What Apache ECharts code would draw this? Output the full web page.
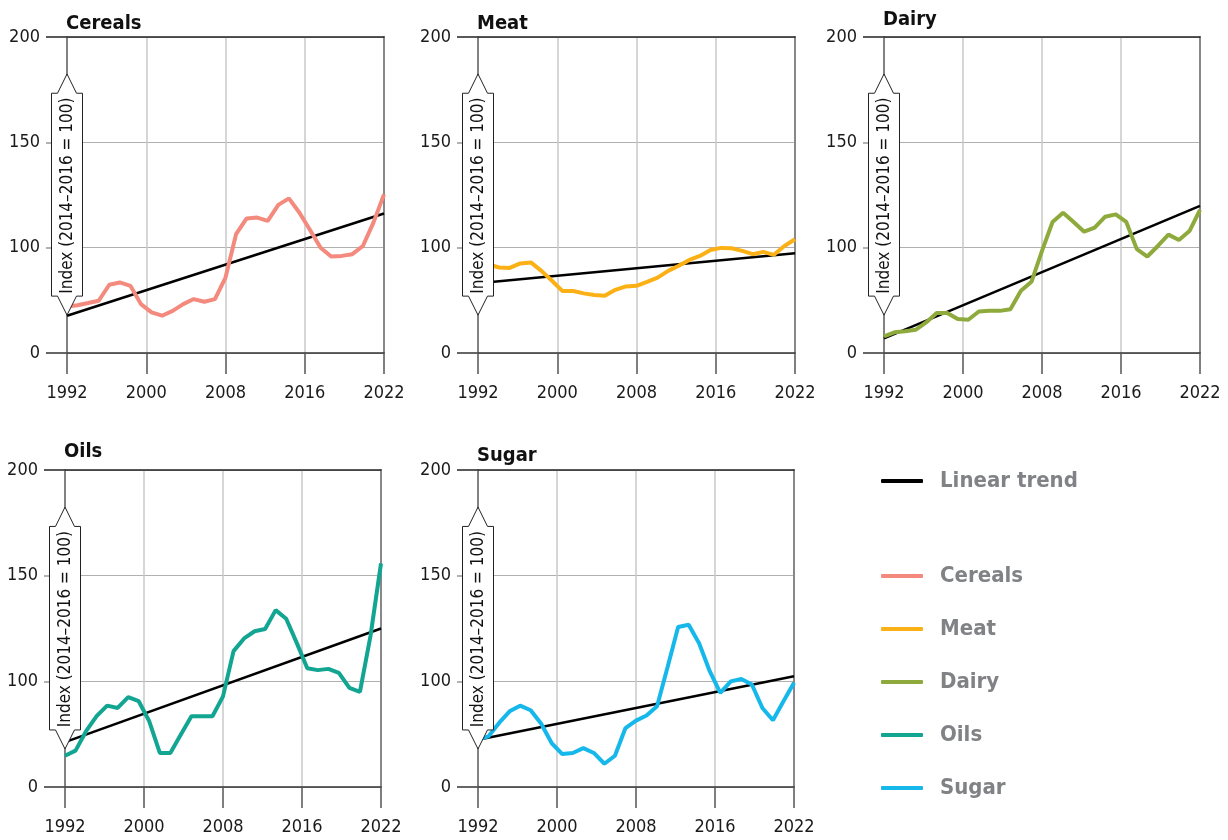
<!DOCTYPE html>
<html>
<head>
<meta charset="utf-8">
<title>Food price indices</title>
<script src="https://cdn.jsdelivr.net/npm/echarts@6/dist/echarts.min.js"></script>
<style>
  html, body { margin: 0; padding: 0; background: #fff; }
  #chart { width: 1228px; height: 840px; }
</style>
</head>
<body>
<div id="chart"></div>
<script>
const years = [
  '1992', '1993', '1994', '1995', '1996', '1997', '1998', '1999', '2000', '2001',
  '2002', '2003', '2004', '2005', '2006', '2007', '2008', '2009', '2010', '2011',
  '2012', '2013', '2014', '2015', '2016', '2017', '2018', '2019', '2020', '2021', '2022'
]
const xTickLabels = ['1992', '2000', '2008', '2016', '2022']
const yTickValues = [50, 100, 150, 200]
const yTickLabels = ['0', '100', '150', '200']

const cereals = [72.1, 72.7, 73.7, 74.8, 82.4, 83.5, 81.9, 73.2, 69.3, 67.7, 70.0, 73.2, 75.6, 74.3, 75.6, 85.8,
  106.4, 113.9, 114.3, 112.7, 120.3, 123.4, 116.6, 108.4, 100.0, 95.8, 96.1, 96.9, 100.8, 111.9, 125.3]
const meat = [93.0, 92.0, 90.6, 90.4, 92.5, 93.0, 89.0, 84.3, 79.4, 79.4, 78.3, 77.5, 77.2, 80.0, 81.6, 81.9,
  83.8, 85.8, 89.0, 91.4, 94.2, 96.1, 98.9, 99.9, 99.7, 98.5, 96.9, 98.0, 96.6, 100.8, 104.0]
const dairy = [57.9, 59.8, 60.3, 61.0, 64.5, 69.0, 69.0, 66.1, 65.8, 69.7, 70.0, 70.0, 70.8, 79.5, 83.8, 98.5,
  112.2, 116.6, 112.2, 107.6, 109.5, 114.7, 115.8, 112.2, 99.3, 95.8, 100.8, 106.2, 103.6, 107.9, 117.9]
const oils = [64.8, 67.2, 76.4, 83.5, 88.5, 87.4, 92.5, 90.6, 81.1, 66.1, 66.1, 74.8, 83.5, 83.5, 83.5, 92.9,
  114.3, 120.3, 123.7, 124.8, 133.7, 129.6, 118.2, 106.2, 105.3, 105.9, 104.0, 96.9, 95.0, 121.4, 155.8]
const sugar = [72.4, 74.0, 80.3, 85.8, 88.5, 86.3, 79.9, 70.7, 65.6, 66.1, 68.4, 66.1, 61.0, 64.8, 77.9, 81.4,
  83.8, 88.2, 106.8, 125.7, 126.8, 117.9, 104.8, 94.5, 100.0, 101.1, 98.5, 87.4, 81.6, 90.6, 99.3]

// linear trend: value at 1992 and at 2022
const cerealsTrend = [67.7, 116.2]
const meatTrend = [83.1, 97.3]
const dairyTrend = [56.9, 119.8]
const oilsTrend = [71.2, 125.0]
const sugarTrend = [72.4, 102.4]

const FONT = "'DejaVu Sans Condensed', 'DejaVu Sans', sans-serif"

const panels = [
  { name: 'Cereals', color: '#F4897D', values: cereals, trend: cerealsTrend, left: 67, top: 37, width: 317, height: 316, titleTop: 14 },
  { name: 'Meat', color: '#FBB116', values: meat, trend: meatTrend, left: 478, top: 37, width: 317, height: 316, titleTop: 14 },
  { name: 'Dairy', color: '#8FAA3C', values: dairy, trend: dairyTrend, left: 884, top: 37, width: 316, height: 316, titleTop: 10 },
  { name: 'Oils', color: '#12A592', values: oils, trend: oilsTrend, left: 65, top: 470, width: 316, height: 317, titleTop: 442 },
  { name: 'Sugar', color: '#16B8EC', values: sugar, trend: sugarTrend, left: 478, top: 470, width: 316, height: 317, titleTop: 446 },
]

const TICK_LEN = 21

const grid = []
const xAxis = []
const yAxis = []
const series = []
const title = []
const graphic = []

panels.forEach((p, i) => {
  grid.push({ left: p.left, top: p.top, width: p.width, height: p.height })

  // data axis (hidden labels), also draws the dark top border
  xAxis.push({
    type: 'category',
    gridIndex: i,
    data: years,
    boundaryGap: false,
    position: 'top',
    axisLine: { show: true, onZero: false, lineStyle: { color: '#222', width: 1.5 } },
    axisTick: { show: false },
    axisLabel: { show: false },
    splitLine: { show: false },
  })
  // tick / grid axis
  xAxis.push({
    type: 'value',
    gridIndex: i,
    min: 0,
    max: 4,
    interval: 1,
    position: 'bottom',
    axisLine: { show: true, onZero: false, lineStyle: { color: '#333', width: 1.5 } },
    axisTick: { show: true, inside: false, length: TICK_LEN, lineStyle: { color: '#555', width: 1.5 } },
    axisLabel: {
      margin: 31,
      formatter: (v) => xTickLabels[v],
      fontFamily: FONT,
      fontSize: 18,
      color: '#1a1a1a',
    },
    splitLine: { show: true, lineStyle: { color: '#c8c8c8', width: 1.5 } },
  })

  yAxis.push({
    type: 'value',
    gridIndex: i,
    position: 'left',
    min: 50,
    max: 200,
    interval: 50,
    axisLine: { show: true, onZero: false, lineStyle: { color: '#666', width: 1.5 } },
    axisTick: { show: false },
    axisLabel: {
      margin: 27,
      formatter: (v) => yTickLabels[yTickValues.indexOf(v)],
      fontFamily: FONT,
      fontSize: 18,
      color: '#1a1a1a',
    },
    splitLine: { show: true, lineStyle: { color: '#b0b0b0', width: 1 } },
  })
  yAxis.push({
    type: 'value',
    gridIndex: i,
    min: 50,
    max: 200,
    position: 'right',
    axisLine: { show: true, onZero: false, lineStyle: { color: '#888', width: 2 } },
    axisTick: { show: false },
    axisLabel: { show: false },
    splitLine: { show: false },
  })

  series.push({
    name: 'Linear trend',
    type: 'line',
    xAxisIndex: i * 2,
    yAxisIndex: i * 2,
    data: [[years[0], p.trend[0]], [years[years.length - 1], p.trend[1]]],
    symbol: 'none',
    color: '#000',
    lineStyle: { color: '#000', width: 2.5 },
    z: 3,
  })
  series.push({
    name: p.name,
    type: 'line',
    xAxisIndex: i * 2,
    yAxisIndex: i * 2,
    data: p.values,
    symbol: 'none',
    color: p.color,
    lineStyle: { color: p.color, width: 4 },
    z: 4,
  })

  title.push({
    text: p.name,
    left: p.left - 1,
    top: p.titleTop,
    padding: 0,
    textStyle: { fontFamily: FONT, fontSize: 20, fontWeight: 'bold', color: '#111' },
  })

  // y axis name in an up/down arrow box sitting on the axis
  const cx = p.left
  const yTopApex = p.top + p.height * 0.117
  const yShoulder = p.top + p.height * 0.178
  const yFoot = p.top + p.height * 0.82
  const yBottomApex = p.top + p.height * 0.88
  graphic.push({
    type: 'polygon',
    z: 100,
    shape: {
      points: [
        [cx, yTopApex], [cx + 9.5, yShoulder], [cx + 15.5, yShoulder], [cx + 15.5, yFoot],
        [cx + 9.5, yFoot], [cx, yBottomApex], [cx - 9.5, yFoot], [cx - 15.5, yFoot],
        [cx - 15.5, yShoulder], [cx - 9.5, yShoulder],
      ],
    },
    style: { fill: '#fff', stroke: '#222', lineWidth: 1 },
  })
  graphic.push({
    type: 'text',
    z: 101,
    x: cx + 1,
    y: (yShoulder + yFoot) / 2 + 1,
    rotation: Math.PI / 2,
    style: {
      text: 'Index (2014–2016 = 100)',
      fontFamily: FONT,
      fontSize: 17,
      fill: '#111',
      align: 'center',
      verticalAlign: 'middle',
    },
  })
})

// y ticks left of each axis: a narrow strip grid whose split lines act as ticks
panels.forEach((p, i) => {
  const gi = panels.length + i
  grid.push({ left: p.left - TICK_LEN, top: p.top, width: TICK_LEN, height: p.height })
  xAxis.push({ type: 'value', gridIndex: gi, min: 0, max: 1, show: false })
  yAxis.push({
    type: 'value',
    gridIndex: gi,
    min: 50,
    max: 200,
    interval: 50,
    axisLine: { show: false },
    axisTick: { show: false },
    axisLabel: { show: false },
    splitLine: { show: true, lineStyle: { color: ['#333', '#999', '#999', '#222'], width: 1.5 } },
  })
})

const legendText = {
  fontFamily: FONT,
  fontSize: 22,
  fontWeight: 'bold',
  color: '#808285',
  lineHeight: 30,
  padding: [0, 0, 0, 12],
}

const chart = echarts.init(document.getElementById('chart'))
chart.setOption({
  animation: false,
  backgroundColor: '#fff',
  title,
  grid,
  xAxis,
  yAxis,
  series,
  graphic,
  legend: [
    {
      data: ['Linear trend'],
      left: 881,
      top: 466,
      padding: 0,
      orient: 'vertical',
      icon: 'roundRect',
      itemWidth: 42,
      itemHeight: 4,
      selectedMode: false,
      textStyle: legendText,
    },
    {
      data: ['Cereals', 'Meat', 'Dairy', 'Oils', 'Sugar'],
      left: 881,
      top: 561,
      padding: 0,
      orient: 'vertical',
      icon: 'roundRect',
      itemWidth: 42,
      itemHeight: 4,
      itemGap: 23,
      selectedMode: false,
      textStyle: legendText,
    },
  ],
})
</script>
</body>
</html>
